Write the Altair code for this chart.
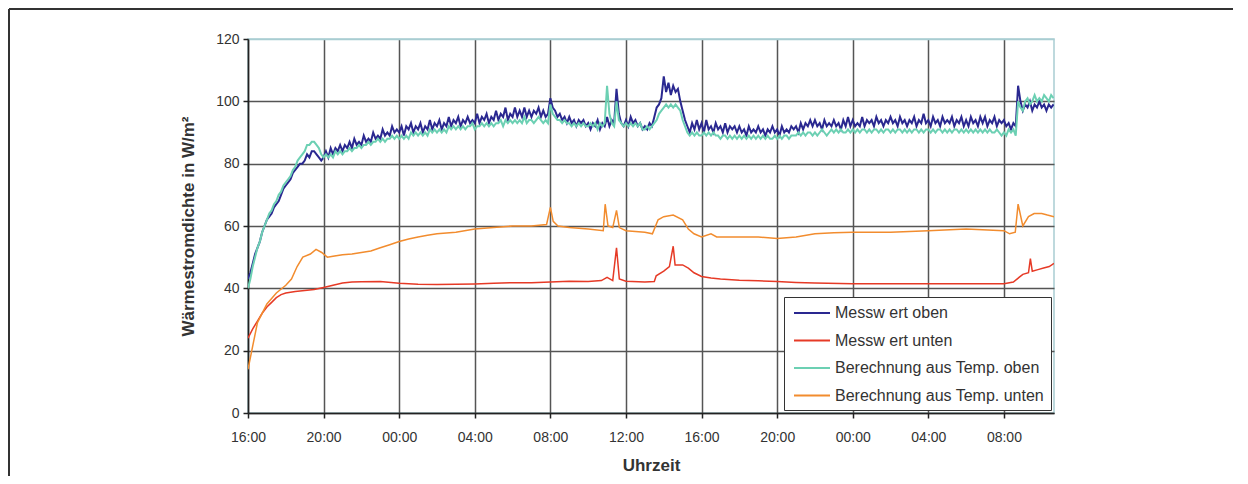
import altair as alt
import pandas as pd

SERIES = ["Messw ert oben", "Messw ert unten",
          "Berechnung aus Temp. oben", "Berechnung aus Temp. unten"]
COLORS = ["#2a2890", "#e63a26", "#6cd0b3", "#f28c2e"]

X_TICKS = [0, 4, 8, 12, 16, 20, 24, 28, 32, 36, 40]
Y_TICKS = [0, 20, 40, 60, 80, 100, 120]

# Messwert oben, sampled every 7.5 min starting 16:00 (one row = one hour)
MESS_OBEN = [
    43, 45, 48, 51, 53, 55, 58, 60,
    62, 63, 64, 66, 67, 68, 70, 72,
    73, 74, 75, 77, 78, 79, 80, 80,
    81, 83, 82, 84, 84, 83, 82, 81,
    82, 84, 82, 85, 83, 85, 84, 86,
    84, 86, 85, 87, 85, 88, 86, 87,
    86, 89, 87, 88, 87, 90, 88, 89,
    88, 91, 89, 90, 89, 92, 90, 91,
    90, 92, 89, 92, 91, 93, 90, 92,
    91, 93, 90, 92, 91, 94, 91, 93,
    92, 94, 91, 93, 92, 95, 92, 94,
    93, 95, 92, 94, 93, 95, 93, 94,
    93, 96, 93, 95, 94, 96, 93, 95,
    94, 97, 94, 96, 95, 98, 94, 96,
    95, 98, 95, 97, 95, 98, 95, 97,
    95, 97, 96, 98, 95, 97, 95, 96,
    101, 98, 97, 95, 96, 94, 95, 93,
    95, 93, 94, 92, 94, 93, 94, 92,
    93, 91, 93, 92, 94, 91, 93, 92,
    95, 92, 94, 93, 104, 96, 93, 92,
    94, 92, 95, 93, 94, 92, 93, 91,
    92, 91, 93, 92, 95, 98, 99, 101,
    108, 103, 106, 102, 105, 103, 104, 100,
    97, 94, 92, 90, 93, 91, 94, 91,
    93, 90, 94, 91, 92, 90, 93, 91,
    92, 90, 93, 90, 92, 91, 92, 90,
    92, 90, 91, 89, 92, 90, 91, 90,
    92, 90, 91, 89, 91, 90, 92, 90,
    91, 89, 92, 90, 91, 90, 92, 91,
    92, 90, 93, 91, 93, 92, 94, 92,
    94, 92, 93, 91, 94, 92, 93, 92,
    94, 92, 93, 91, 94, 92, 95, 92,
    94, 92, 93, 92, 95, 92, 94, 93,
    94, 92, 95, 93, 94, 92, 94, 93,
    95, 93, 94, 92, 95, 93, 94, 92,
    94, 93, 95, 92, 94, 93, 96, 93,
    94, 92, 95, 93, 94, 92, 95, 93,
    94, 93, 95, 92, 94, 93, 95, 92,
    94, 92, 95, 93, 94, 92, 95, 93,
    95, 92, 94, 93, 95, 92, 94, 93,
    94, 92, 93, 91, 93, 92, 105, 100,
    97, 99, 98, 100, 97, 99, 98, 100,
    98, 99, 97, 99, 98, 99,
]

# Berechnung aus Temp. oben, same sampling
BER_OBEN = [
    40, 43, 47, 50, 53, 55, 58, 60,
    62, 64, 65, 67, 68, 70, 71, 73,
    74, 75, 76, 78, 79, 81, 82, 83,
    84, 86, 86, 87, 87, 86, 85, 83,
    82, 83, 82, 83, 82, 84, 83, 84,
    83, 84, 84, 85, 84, 85, 85, 86,
    85, 86, 86, 87, 86, 87, 87, 88,
    87, 88, 87, 88, 88, 89, 88, 89,
    88, 89, 88, 89, 88, 90, 89, 90,
    89, 90, 89, 90, 89, 91, 90, 91,
    90, 91, 90, 91, 90, 92, 91, 92,
    91, 92, 91, 92, 91, 92, 92, 93,
    91, 92, 92, 93, 92, 93, 92, 93,
    92, 93, 93, 94, 92, 94, 93, 94,
    93, 94, 93, 94, 93, 95, 93, 94,
    94, 93, 94, 95, 94, 93, 94, 93,
    99, 96, 95, 94, 94, 93, 94, 93,
    93, 92, 93, 92, 93, 92, 93, 92,
    92, 93, 92, 93, 91, 93, 92, 93,
    105, 96, 93, 92, 100, 94, 93, 92,
    93, 92, 93, 92, 93, 92, 93, 91,
    91, 92, 91, 92, 93, 94, 96, 97,
    98, 99, 98, 99, 98, 99, 98, 97,
    94, 92, 90, 89, 90, 89, 90, 89,
    89, 90, 89, 90, 89, 90, 89, 89,
    88, 89, 89, 88, 89, 88, 89, 88,
    89, 88, 89, 88, 89, 88, 89, 88,
    89, 88, 89, 88, 89, 88, 88, 89,
    88, 89, 88, 89, 89, 88, 89, 89,
    89, 90, 89, 90, 89, 90, 90, 89,
    90, 89, 90, 91, 90, 89, 90, 91,
    90, 91, 90, 91, 90, 90, 91, 90,
    91, 90, 91, 90, 91, 91, 90, 91,
    90, 91, 91, 90, 91, 90, 91, 91,
    90, 91, 90, 91, 91, 90, 91, 90,
    91, 90, 91, 91, 90, 91, 90, 91,
    91, 90, 91, 90, 91, 91, 90, 91,
    90, 91, 90, 91, 91, 90, 91, 90,
    91, 90, 91, 90, 91, 90, 91, 90,
    91, 90, 91, 90, 90, 91, 90, 89,
    90, 89, 91, 90, 91, 89, 100, 98,
    97, 100, 101, 99, 100, 102, 100, 101,
    100, 102, 101, 100, 102, 101,
]

# Messwert unten (hours after 16:00, value)
MESS_UNTEN_T = [0, 0.25, 0.5, 0.75, 1, 1.25, 1.5, 1.75, 2, 2.5,
                3, 3.5, 4, 4.5, 5, 5.5, 6, 7, 8, 9,
                10, 11, 12, 13, 14, 15, 16, 17, 18, 18.7,
                19.0, 19.3, 19.5, 19.65, 20, 21, 21.5, 21.6, 22, 22.3,
                22.5, 22.6, 23, 23.3, 23.6, 24, 24.5, 25, 26, 27,
                28, 29, 30, 32, 34, 36, 38, 40, 40.5, 40.8,
                41, 41.3, 41.4, 41.5, 41.8, 42.1, 42.4, 42.65]
MESS_UNTEN = [24, 27, 29.5, 32, 34, 35.5, 37, 38, 38.5, 39,
              39.3, 39.6, 40.3, 41, 41.7, 42, 42.1, 42.2, 41.6, 41.3,
              41.2, 41.3, 41.4, 41.6, 41.8, 41.8, 42, 42.3, 42.2, 42.5,
              43.5, 42.5, 53, 43, 42.3, 42, 42.2, 44, 45.5, 47,
              53.5, 47.5, 47.5, 46.5, 45, 43.8, 43.3, 43, 42.6, 42.4,
              42.2, 41.9, 41.7, 41.5, 41.5, 41.5, 41.5, 41.5, 42, 43.5,
              44.5, 45, 49.5, 45.5, 46, 46.5, 47, 48]

# Berechnung aus Temp. unten
BER_UNTEN_T = [0, 0.2, 0.5, 1, 1.5, 2, 2.3, 2.6, 2.9, 3.3,
               3.6, 3.9, 4.2, 4.5, 5, 5.5, 6, 6.5, 7, 7.5,
               8, 8.5, 9, 9.5, 10, 11, 12, 13, 14, 15,
               15.8, 16.0, 16.15, 16.4, 17, 18, 18.8, 18.9, 19.05, 19.3,
               19.5, 19.65, 20, 21, 21.4, 21.7, 22, 22.5, 23, 23.3,
               23.6, 24, 24.5, 24.8, 25, 26, 27, 28, 29, 30,
               31, 32, 34, 36, 38, 40, 40.3, 40.6, 40.75, 41.0,
               41.3, 41.6, 42, 42.3, 42.65]
BER_UNTEN = [14, 20, 29, 35, 38.5, 41, 43, 47, 50, 51,
             52.5, 51.5, 50, 50.3, 50.8, 51, 51.5, 52, 53, 54,
             55, 55.8, 56.5, 57, 57.5, 58, 59, 59.5, 60, 60,
             60.5, 66, 61.5, 60, 59.5, 59, 58.5, 67, 60, 59.5,
             65, 59.5, 58.5, 58, 57.5, 62, 63, 63.5, 62, 59,
             57.5, 56.5, 57.5, 56.5, 56.5, 56.5, 56.5, 56, 56.5, 57.5,
             57.8, 58, 58, 58.5, 59, 58.5, 57.5, 58, 67, 60,
             63, 64, 64, 63.5, 63]

rows = []
for i, v in enumerate(MESS_OBEN):
    rows.append({"t": i * 0.125, "v": v, "series": SERIES[0]})
for t, v in zip(MESS_UNTEN_T, MESS_UNTEN):
    rows.append({"t": t, "v": v, "series": SERIES[1]})
for i, v in enumerate(BER_OBEN):
    rows.append({"t": i * 0.125, "v": v, "series": SERIES[2]})
for t, v in zip(BER_UNTEN_T, BER_UNTEN):
    rows.append({"t": t, "v": v, "series": SERIES[3]})
df = pd.DataFrame(rows)

FONT = "Liberation Sans"
WIDTHS = [2.0, 1.5, 2.0, 1.5]

x = alt.X("t:Q",
          scale=alt.Scale(domain=[0, 42.65], nice=False, zero=False),
          axis=alt.Axis(values=X_TICKS, title="Uhrzeit", labelFlush=False,
                        labelExpr="(((16 + datum.value) % 24) < 10 ? '0' : '') + ((16 + datum.value) % 24) + ':00'",
                        labelPadding=12, titlePadding=13))
y = alt.Y("v:Q",
          scale=alt.Scale(domain=[0, 120], nice=False),
          axis=alt.Axis(values=Y_TICKS, title="Wärmestromdichte in W/m²",
                        labelPadding=4, titlePadding=18,
                        gridColor={"condition": {"test": "datum.value == 120", "value": "#a9cdd2"},
                                   "value": "#555555"}))
color = alt.Color("series:N",
                  scale=alt.Scale(domain=SERIES, range=COLORS),
                  legend=alt.Legend(title=None, orient="none", legendX=536, legendY=258,
                                    strokeColor="#333333", fillColor="white", padding=6,
                                    symbolType="M-2,0H2", symbolSize=324, symbolStrokeWidth=2,
                                    symbolOffset=12, labelOffset=13, rowPadding=9.5,
                                    labelFontSize=16, labelFont=FONT, labelColor="#333333",
                                    labelLimit=400))

base = alt.Chart(df)
layers = [
    base.transform_filter(alt.datum.series == s)
        .mark_line(strokeWidth=w, clip=True)
        .encode(x=x, y=y, color=color)
    for s, w in zip(SERIES, WIDTHS)
]

frame = alt.Chart(pd.DataFrame({"a": [0]}))
left_line = frame.mark_rule(color="#333333", strokeWidth=2).encode(
    x=alt.value(-239), y=alt.value(-30), y2=alt.value(445))
top_line = frame.mark_rule(color="#333333", strokeWidth=2).encode(
    x=alt.value(-239), x2=alt.value(985), y=alt.value(-30))

chart = alt.layer(*layers, left_line, top_line).properties(
    width=806, height=374,
    autosize=alt.AutoSizeParams(type="none"),
    padding={"left": 240, "top": 31, "right": 186, "bottom": 63},
    background="white",
).configure_view(
    stroke="#a9cdd2", strokeWidth=1.5
).configure_axis(
    domainColor="#222222", domainWidth=1.5,
    tickColor="#222222", tickSize=5, tickWidth=1.5,
    labelColor="#333333", labelFontSize=14, labelFont=FONT,
    titleColor="#333333", titleFontSize=17, titleFont=FONT, titleFontWeight="bold",
    gridColor="#555555", gridWidth=1.5,
)

chart.save("out.html", embed_options={"renderer": "svg", "actions": False})
